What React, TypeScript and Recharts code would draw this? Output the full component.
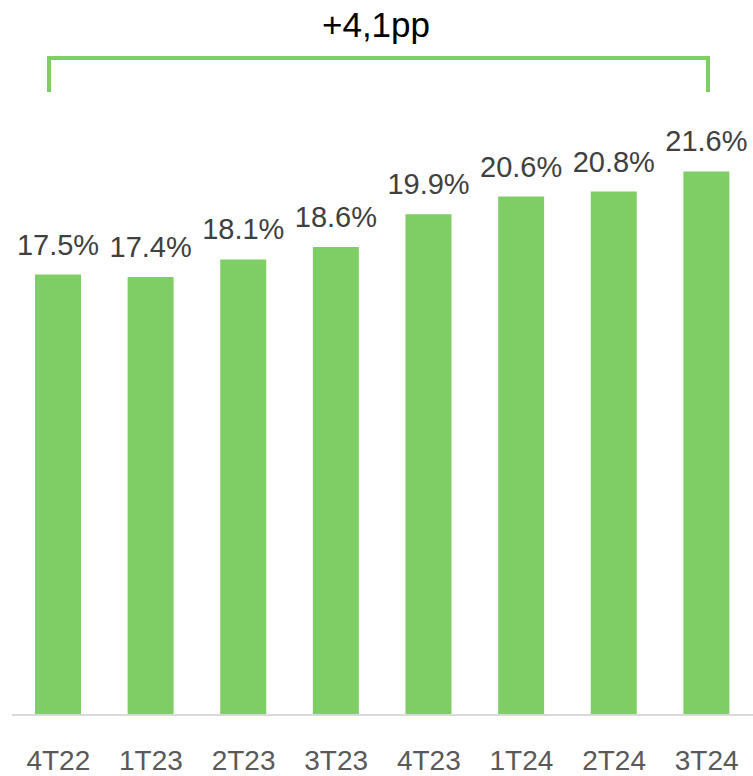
import React from 'react';
import { BarChart, Bar, XAxis, YAxis, LabelList, Customized } from 'recharts';

// Quarters and share values (%)
const QUARTERS = ['4T22', '1T23', '2T23', '3T23', '4T23', '1T24', '2T24', '3T24'];
const SHARE = [17.5, 17.4, 18.1, 18.6, 19.9, 20.6, 20.8, 21.6];
const DELTA_LABEL = '+4,1pp';

const GREEN = '#7ECE65';
const FONT = '"Liberation Sans", Arial, sans-serif';

const data = QUARTERS.map((q, i) => ({ q, value: SHARE[i] }));

// Bracket with the change label above the bars
const Bracket = () => (
  <g>
    <text
      x={376}
      y={37}
      textAnchor="middle"
      fontFamily={FONT}
      fontSize={35}
      fill="#000000"
    >
      {DELTA_LABEL}
    </text>
    <path
      d="M49,92 L49,58 L708,58 L708,92"
      fill="none"
      stroke={GREEN}
      strokeWidth={4}
    />
  </g>
);

const App: React.FC = () => {
  return (
    <div style={{ position: 'absolute', left: 0, top: 0, background: '#fff' }}>
      <BarChart
        width={753}
        height={776}
        data={data}
        margin={{ top: 111, right: 0, left: 12, bottom: 0 }}
        barCategoryGap="25%"
      >
        <XAxis
          dataKey="q"
          height={61}
          axisLine={{ stroke: '#D9D9D9', strokeWidth: 2 }}
          tickLine={false}
          tickSize={0}
          tickMargin={35}
          interval={0}
          tick={{ fontSize: 28, fill: '#595959', fontFamily: FONT }}
        />
        <YAxis hide domain={[0, 24]} />
        <Bar dataKey="value" fill={GREEN} barSize={46} isAnimationActive={false}>
          <LabelList
            dataKey="value"
            position="top"
            offset={20}
            formatter={(v: number) => `${v.toFixed(1)}%`}
            style={{ fontSize: 29, fill: '#404040', fontFamily: FONT }}
          />
        </Bar>
        <Customized component={Bracket} />
      </BarChart>
    </div>
  );
};

export default App;
